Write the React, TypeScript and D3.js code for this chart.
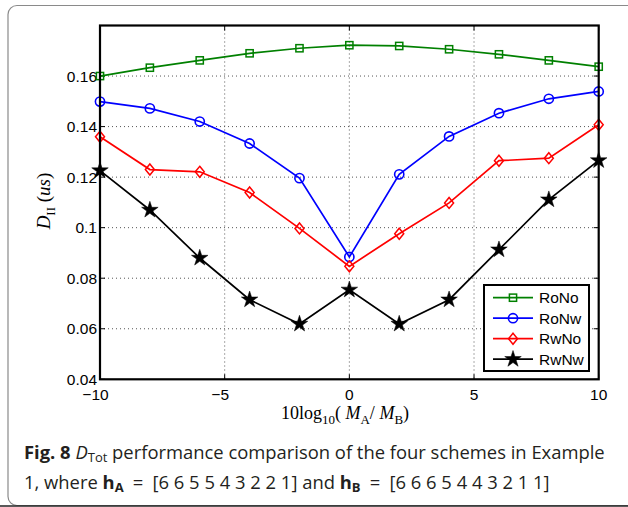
import React from "react";
import * as d3 from "d3";

const xValues = [-10, -8, -6, -4, -2, 0, 2, 4, 6, 8, 10];
const roNo = [0.160, 0.1633, 0.1662, 0.1690, 0.1710, 0.1722, 0.1719, 0.1706, 0.1686, 0.1662, 0.1637];
const roNw = [0.1499, 0.1472, 0.1420, 0.1333, 0.1196, 0.0884, 0.1211, 0.1361, 0.1453, 0.1510, 0.1539];
const rwNo = [0.1360, 0.1230, 0.1221, 0.1139, 0.0997, 0.0847, 0.0976, 0.1098, 0.1265, 0.1275, 0.1407];
const rwNw = [0.1226, 0.1070, 0.0880, 0.0715, 0.0619, 0.0754, 0.0619, 0.0715, 0.0913, 0.1111, 0.1266];
const seriesNames = ["RoNo", "RoNw", "RwNo", "RwNw"];
const xTicks = [-10, -5, 0, 5, 10];
const yTicks = [0.04, 0.06, 0.08, 0.1, 0.12, 0.14, 0.16, 0.18];
const yTickLabels = ["0.04", "0.06", "0.08", "0.1", "0.12", "0.14", "0.16", ""];

const series = [
  { name: seriesNames[0], values: roNo, color: "#008000", marker: "square" },
  { name: seriesNames[1], values: roNw, color: "#0000ff", marker: "circle" },
  { name: seriesNames[2], values: rwNo, color: "#ff0000", marker: "diamond" },
  { name: seriesNames[3], values: rwNw, color: "#000000", marker: "star" },
];

const M = { left: 100, right: 598.7, top: 25.5, bottom: 379.3 };

function Marker({ type, x, y, color }: { type: string; x: number; y: number; color: string }) {
  if (type === "square") {
    return <rect x={x - 3.6} y={y - 3.6} width={7.2} height={7.2} fill="none" stroke={color} strokeWidth={1.5} />;
  }
  if (type === "circle") {
    return <circle cx={x} cy={y} r={4.6} fill="none" stroke={color} strokeWidth={1.6} />;
  }
  if (type === "diamond") {
    const p = `${x},${y - 5.5} ${x + 4.5},${y} ${x},${y + 5.5} ${x - 4.5},${y}`;
    return <polygon points={p} fill="none" stroke={color} strokeWidth={1.5} />;
  }
  const star = d3.symbol().type(d3.symbolStar).size(85)();
  return <path d={star || ""} transform={`translate(${x},${y})`} fill={color} stroke={color} strokeWidth={0.5} />;
}

export default function App() {
  const x = d3.scaleLinear().domain([-10, 10]).range([M.left, M.right]);
  const y = d3.scaleLinear().domain([0.04, 0.18]).range([M.bottom, M.top]);
  const line = d3
    .line<number>()
    .x((_, i) => x(xValues[i]))
    .y((d) => y(d));

  const legendX = 484;
  const legendY = 285;

  return (
    <svg width={628} height={507} style={{ position: "absolute", left: 0, top: 0 }} fontFamily="'Liberation Sans', Arial, sans-serif">
      <rect x={0} y={0} width={628} height={507} fill="#fff" />
      <rect x={8} y={5.5} width={650} height={500} rx={9} fill="#fff" stroke="#8a8a8a" strokeWidth={1.2} />
      <line x1={0} x2={628} y1={506} y2={506} stroke="#222" strokeWidth={1.5} />

      {/* grid */}
      {xTicks.slice(1, -1).map((t) => (
        <line key={"gx" + t} x1={x(t)} x2={x(t)} y1={M.top} y2={M.bottom} stroke="#555" strokeWidth={1} strokeDasharray="1,3" />
      ))}
      {yTicks.slice(1, -1).map((t) => (
        <line key={"gy" + t} x1={M.left} x2={M.right} y1={y(t)} y2={y(t)} stroke="#555" strokeWidth={1} strokeDasharray="1,3" />
      ))}

      {/* ticks */}
      {xTicks.map((t) => (
        <g key={"tx" + t}>
          <line x1={x(t)} x2={x(t)} y1={M.bottom} y2={M.bottom - 5} stroke="#000" strokeWidth={1} />
          <line x1={x(t)} x2={x(t)} y1={M.top} y2={M.top + 5} stroke="#000" strokeWidth={1} />
          <text x={x(t) + (t < 0 ? -4.5 : 0)} y={399.5} textAnchor="middle" fontSize={15.5}>
            {t < 0 ? "\u2212" + Math.abs(t) : String(t)}
          </text>
        </g>
      ))}
      {yTicks.map((t, i) => (
        <g key={"ty" + t}>
          <line x1={M.left} x2={M.left + 5} y1={y(t)} y2={y(t)} stroke="#000" strokeWidth={1} />
          <line x1={M.right} x2={M.right - 5} y1={y(t)} y2={y(t)} stroke="#000" strokeWidth={1} />
          <text x={97} y={y(t)} dy="0.36em" textAnchor="end" fontSize={15.5}>
            {yTickLabels[i]}
          </text>
        </g>
      ))}

      {/* series */}
      {series.map((s) => (
        <g key={s.name}>
          <path d={line(s.values) || ""} fill="none" stroke={s.color} strokeWidth={1.7} />
          {s.values.map((v, i) => (
            <Marker key={i} type={s.marker} x={x(xValues[i])} y={y(v)} color={s.color} />
          ))}
        </g>
      ))}

      {/* axes box */}
      <rect x={M.left} y={M.top} width={M.right - M.left} height={M.bottom - M.top} fill="none" stroke="#000" strokeWidth={2.2} />

      {/* legend */}
      <rect x={legendX} y={legendY} width={105} height={86} fill="#fff" stroke="#000" strokeWidth={2} />
      {series.map((s, i) => {
        const ly = 297.7 + i * 20.5;
        return (
          <g key={"lg" + s.name}>
            <line x1={493} x2={533} y1={ly} y2={ly} stroke={s.color} strokeWidth={1.7} />
            <Marker type={s.marker} x={513} y={ly} color={s.color} />
            <text x={539} y={ly} dy="0.36em" fontSize={15.5}>
              {s.name}
            </text>
          </g>
        );
      })}

      {/* axis labels */}
      <text x={345} y={419} textAnchor="middle" fontFamily="'Liberation Serif', 'Times New Roman', serif" fontSize={18}>
        10log
        <tspan fontSize={13} dy={5}>10</tspan>
        <tspan dy={-5}>( </tspan>
        <tspan fontStyle="italic">M</tspan>
        <tspan fontSize={13} dy={5}>A</tspan>
        <tspan dy={-5}>/ </tspan>
        <tspan fontStyle="italic">M</tspan>
        <tspan fontSize={13} dy={5}>B</tspan>
        <tspan dy={-5}>)</tspan>
      </text>
      <text
        transform="translate(50,201) rotate(-90)"
        textAnchor="middle"
        fontFamily="'Liberation Serif', 'Times New Roman', serif"
        fontSize={19}
      >
        <tspan fontStyle="italic">D</tspan>
        <tspan fontSize={13} dy={5}>II</tspan>
        <tspan dy={-5}> (</tspan>
        <tspan fontStyle="italic">us</tspan>
        <tspan>)</tspan>
      </text>

      {/* caption */}
      <text x={24} y={459} fontFamily="'Open Sans', sans-serif" fontSize={18.4} fill="#231f20">
        <tspan fontWeight="bold">Fig. 8</tspan>
        <tspan> </tspan>
        <tspan fontStyle="italic">D</tspan>
        <tspan fontSize={13} dy={3}>Tot</tspan>
        <tspan dy={-3}> performance comparison of the four schemes in Example</tspan>
      </text>
      <text x={24} y={489} fontFamily="'Open Sans', sans-serif" fontSize={18.4} fill="#231f20">
        <tspan>1, where </tspan>
        <tspan fontWeight="bold">h</tspan>
        <tspan fontWeight="bold" fontSize={13} dy={3}>A</tspan>
        <tspan dy={-3}>{"\u2002=\u2002[6 6 5 5 4 3 2 2 1] and "}</tspan>
        <tspan fontWeight="bold">h</tspan>
        <tspan fontWeight="bold" fontSize={13} dy={3}>B</tspan>
        <tspan dy={-3}>{"\u2002=\u2002[6 6 6 5 4 4 3 2 1 1]"}</tspan>
      </text>
    </svg>
  );
}
